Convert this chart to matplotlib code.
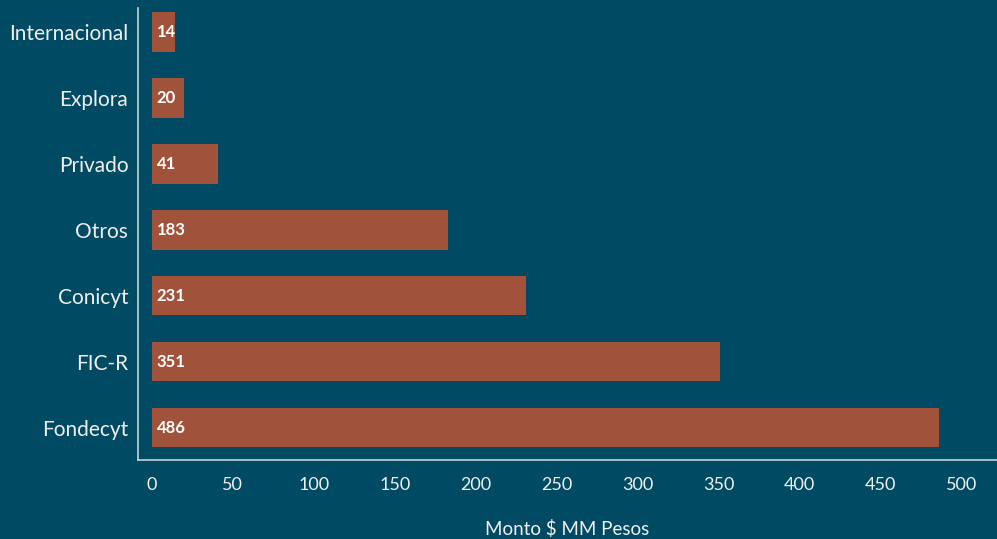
import matplotlib.pyplot as plt

# datos
fuentes = ['Fondecyt', 'FIC-R', 'Conicyt', 'Otros', 'Privado', 'Explora', 'Internacional']
montos = [486, 351, 231, 183, 41, 20, 14]

bg = '#004a63'
bar_color = '#a0523a'
txt = '#f0f0f0'
spine = '#c5d3db'

plt.rcParams['font.family'] = ['Lato', 'DejaVu Sans']

fig = plt.figure(figsize=(9.97, 5.39), dpi=100, facecolor=bg)
ax = fig.add_axes([0.1384, 0.1466, 0.8616, 0.8385], facecolor=bg)

y = range(len(fuentes))
ax.barh(y, montos, height=0.6, color=bar_color)

for i, v in enumerate(montos):
    ax.text(3, i, str(v), color='white', fontsize=12, fontweight='bold',
            va='center', ha='left')

ax.set_yticks(list(y))
ax.set_yticklabels(fuentes)
ax.set_xticks(range(0, 501, 50))
ax.set_xlim(-8.6, 522)
ax.set_ylim(-0.49, 6.36)

ax.tick_params(axis='y', length=0, pad=7, labelsize=15, labelcolor=txt)
ax.tick_params(axis='x', length=0, pad=12, labelsize=13, labelcolor=txt)

ax.set_xlabel('Monto $ MM Pesos', color=txt, fontsize=13.5, labelpad=20)

for s in ['top', 'right']:
    ax.spines[s].set_visible(False)
for s in ['left', 'bottom']:
    ax.spines[s].set_color(spine)
    ax.spines[s].set_linewidth(1.2)

fig.savefig('out.png', dpi=100, facecolor=bg)
